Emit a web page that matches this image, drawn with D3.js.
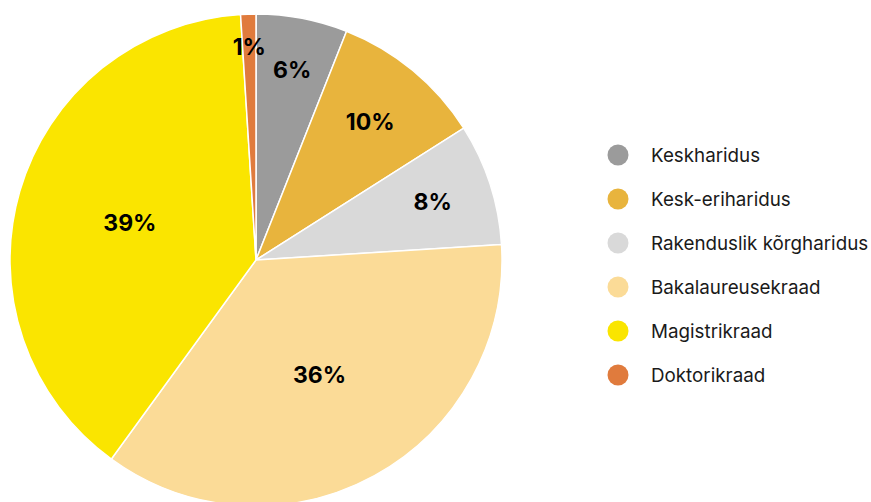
<!DOCTYPE html>
<html>
<head>
<meta charset="utf-8">
<script src="https://cdn.jsdelivr.net/npm/d3@7"></script>
<style>
  html, body { margin: 0; padding: 0; background: #fff; }
  svg { display: block; }
  text { font-family: Inter, "Noto Sans", sans-serif; }
</style>
</head>
<body>
<svg id="chart"></svg>
<script>
// data
const categories = ["Keskharidus", "Kesk-eriharidus", "Rakenduslik kõrgharidus", "Bakalaureusekraad", "Magistrikraad", "Doktorikraad"]
const values = [6, 10, 8, 36, 39, 1]
const colors = ["#9b9b9b", "#e8b43d", "#d9d9d9", "#fbdb97", "#fae500", "#e07b3d"]

const width = 871
const height = 502
const cx = 256
const cy = 260
const radius = 246

const data = categories.map((c, i) => ({ name: c, value: values[i], color: colors[i] }))

const svg = d3.select("#chart")
  .attr("width", width)
  .attr("height", height)
  .attr("viewBox", [0, 0, width, height])

const pie = d3.pie()
  .value(d => d.value)
  .sort(null)

const arc = d3.arc()
  .innerRadius(0)
  .outerRadius(radius)

const arcs = pie(data)

const g = svg.append("g")
  .attr("transform", `translate(${cx},${cy})`)

g.selectAll("path")
  .data(arcs)
  .join("path")
  .attr("d", arc)
  .attr("fill", d => d.data.color)
  .attr("stroke", "#fff")
  .attr("stroke-width", 1.5)

// label distance shrinks as the slice gets wider
const labelPos = d => {
  const span = d.endAngle - d.startAngle
  const k = 0.884 - 0.285 * span + 0.058 * span * span
  const a = (d.startAngle + d.endAngle) / 2
  return [Math.sin(a) * radius * k, -Math.cos(a) * radius * k]
}

g.selectAll("text")
  .data(arcs)
  .join("text")
  .attr("x", d => labelPos(d)[0])
  .attr("y", d => labelPos(d)[1])
  .attr("dy", "0.34em")
  .attr("text-anchor", "middle")
  .attr("font-size", "23px")
  .attr("font-weight", 700)
  .attr("fill", "#000")
  .text(d => d.data.value + "%")

// legend
const legend = svg.append("g")
  .attr("transform", "translate(618,155)")

const item = legend.selectAll("g")
  .data(data)
  .join("g")
  .attr("transform", (d, i) => `translate(0,${i * 44})`)

item.append("circle")
  .attr("r", 10.5)
  .attr("fill", d => d.color)

item.append("text")
  .attr("x", 33)
  .attr("dy", "0.36em")
  .attr("font-size", "18.8px")
  .attr("fill", "#1a1a1a")
  .text(d => d.name)
</script>
</body>
</html>
